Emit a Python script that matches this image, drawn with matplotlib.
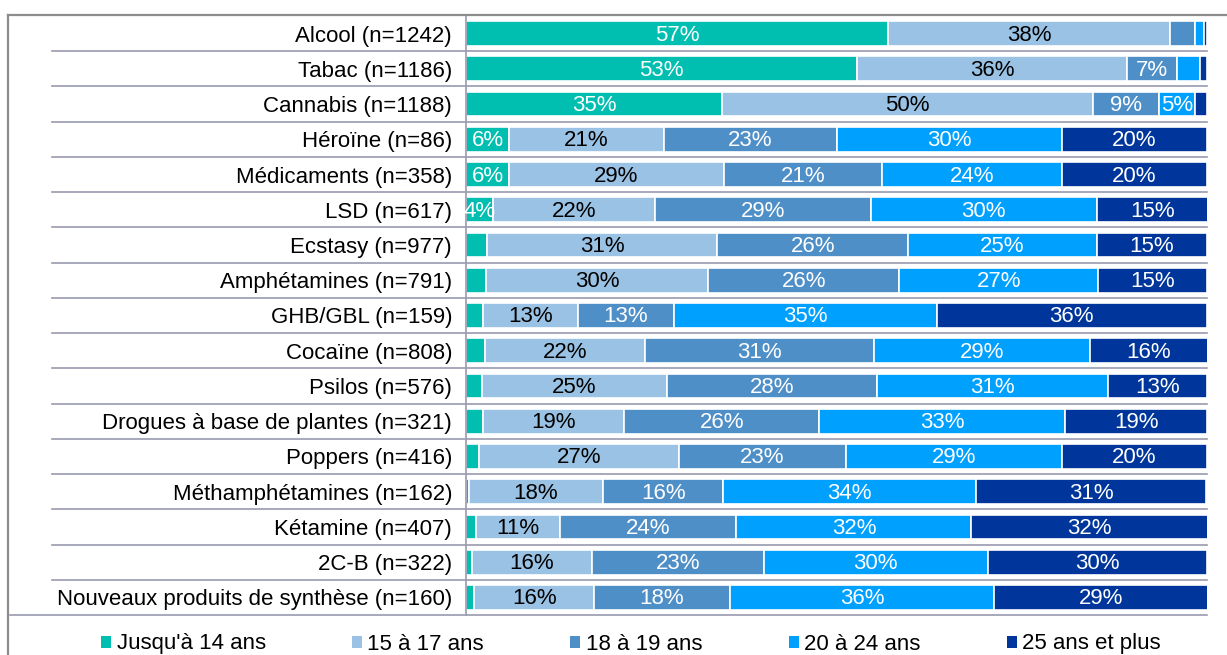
import numpy as np
import matplotlib
matplotlib.use("Agg")
import matplotlib.pyplot as plt
from matplotlib.patches import Patch
from matplotlib.lines import Line2D
import matplotlib.transforms as mtransforms

plt.rcParams['font.family'] = ['Liberation Sans', 'DejaVu Sans']

produits = [
    "Alcool (n=1242)", "Tabac (n=1186)", "Cannabis (n=1188)", "Héroïne (n=86)",
    "Médicaments (n=358)", "LSD (n=617)", "Ecstasy (n=977)", "Amphétamines (n=791)",
    "GHB/GBL (n=159)", "Cocaïne (n=808)", "Psilos (n=576)",
    "Drogues à base de plantes (n=321)", "Poppers (n=416)",
    "Méthamphétamines (n=162)", "Kétamine (n=407)", "2C-B (n=322)",
    "Nouveaux produits de synthèse (n=160)",
]

age_groups = ["Jusqu'à 14 ans", "15 à 17 ans", "18 à 19 ans", "20 à 24 ans", "25 ans et plus"]

# parts (%) par tranche d'âge, dans l'ordre des produits
jusqua_14 = [57.0, 52.8, 34.6, 5.8, 5.8, 3.6, 2.9, 2.7, 2.3, 2.6, 2.2, 2.3, 1.8, 0.4, 1.4, 0.8, 1.1]
de_15_17 = [38.0, 36.4, 50.0, 20.9, 29.0, 21.9, 31.0, 30.0, 12.8, 21.6, 24.9, 19.0, 26.9, 18.1, 11.3, 16.2, 16.2]
de_18_19 = [3.4, 6.7, 8.9, 23.3, 21.3, 29.1, 25.8, 25.8, 13.0, 30.8, 28.4, 26.4, 22.6, 16.2, 23.8, 23.2, 18.3]
de_20_24 = [1.2, 3.2, 4.9, 30.4, 24.3, 30.5, 25.4, 26.8, 35.4, 29.2, 31.2, 33.2, 29.1, 34.1, 31.7, 30.2, 35.7]
plus_25 = [0.4, 0.9, 1.6, 19.6, 19.6, 15.0, 14.9, 14.7, 36.5, 15.9, 13.3, 19.1, 19.6, 31.1, 31.9, 29.6, 28.9]

colors = ["#00BFB1", "#99C2E4", "#4F8FC8", "#00A0FF", "#00369C"]
text_colors = ["white", "black", "white", "white", "white"]

series = [jusqua_14, de_15_17, de_18_19, de_20_24, plus_25]

W, H = 1227, 655
fig = plt.figure(figsize=(W / 100, H / 100), dpi=100)
ax = fig.add_axes([466 / W, 1 - 615.1 / H, 741 / W, (615.1 - 15.9) / H])

# étiquettes de valeur un peu abaissées dans les barres
shift = mtransforms.offset_copy(ax.transData, fig=fig, x=0, y=-1.5, units="dots")

y = np.arange(len(produits))
left = np.zeros(len(produits))
for vals, col, tcol in zip(series, colors, text_colors):
    vals = np.array(vals)
    ax.barh(y, vals, left=left, height=0.7, color=col,
            edgecolor="white", linewidth=1.2)
    for yi, l, v in zip(y, left, vals):
        if v >= 3.5:
            ax.text(l + v / 2, yi, f"{v:.0f}%", ha="center", va="center",
                    color=tcol, fontsize=16, transform=shift)
    left += vals

ax.set_xlim(0, 100)
ax.set_ylim(len(produits) - 0.5, -0.5)
ax.set_xticks([])
ax.set_yticks(y)
ax.set_yticklabels(produits, fontsize=16)
ax.tick_params(axis="y", length=0, pad=10)
for side in ["top", "right", "bottom"]:
    ax.spines[side].set_visible(False)
ax.spines["left"].set_color("#9a9ab0")
ax.spines["left"].set_linewidth(1.2)

# lignes de séparation entre les produits
sep_color = "#9a9ab0"
trans = mtransforms.blended_transform_factory(ax.transAxes, ax.transData)
for i in range(len(produits)):
    x0 = -0.615 if i == len(produits) - 1 else -0.5587
    ax.add_line(Line2D([x0, 1.0], [i + 0.5, i + 0.5], transform=trans,
                       color=sep_color, lw=1.2, clip_on=False))

# cadre extérieur
top = 1 - 15 / H
fig.add_artist(Line2D([8 / W, 1.0], [top, top], color="#8c8c8c", lw=1.6))
fig.add_artist(Line2D([8 / W, 8 / W], [0, top], color="#8c8c8c", lw=1.6))

handles = [Patch(facecolor=c, edgecolor="none") for c in colors]
fig.legend(handles, age_groups, loc="center left", ncol=5,
           bbox_to_anchor=(101 / W, 11 / H), frameon=False, fontsize=16,
           handlelength=0.45, handleheight=0.45, handletextpad=0.25,
           columnspacing=3.88, borderpad=0, borderaxespad=0)

fig.savefig("out.png", dpi=100)
